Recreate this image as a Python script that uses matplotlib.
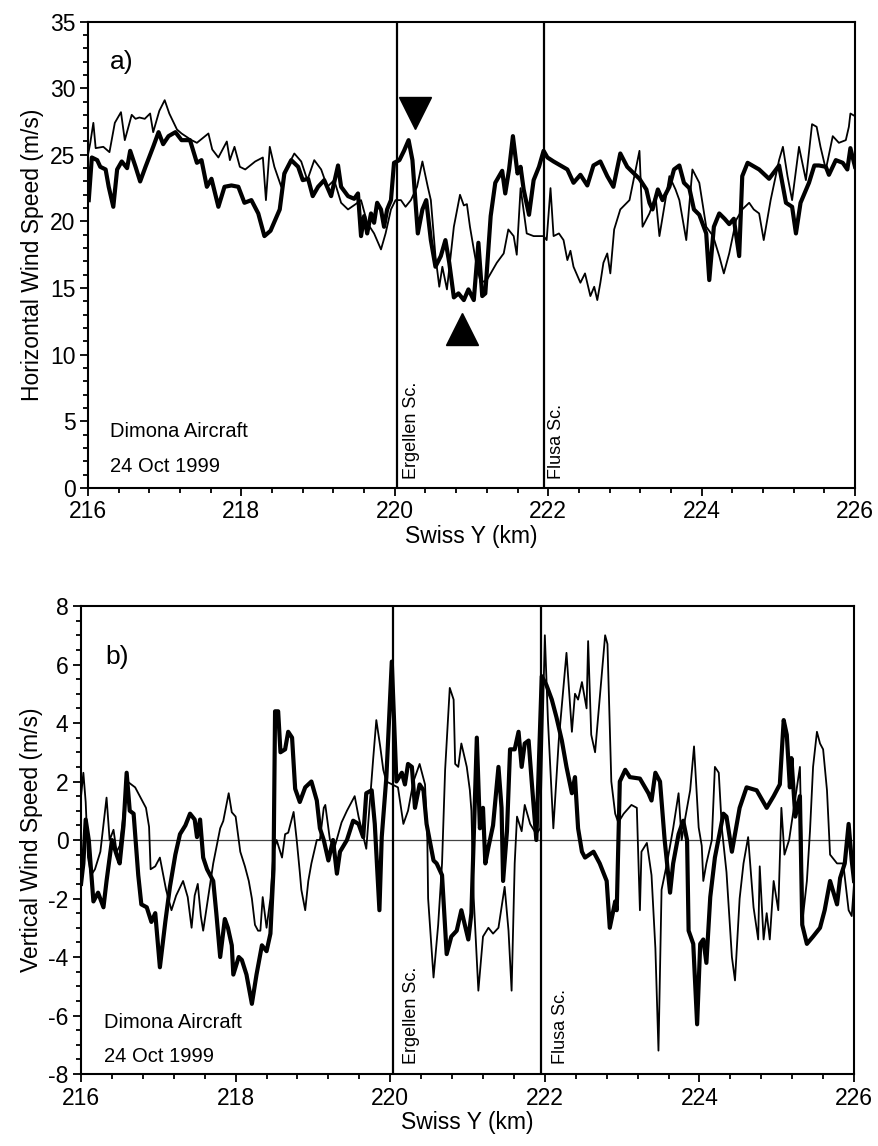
import numpy as np
import matplotlib.pyplot as plt
from matplotlib.ticker import MultipleLocator

plt.rcParams['font.family'] = ['Liberation Sans', 'DejaVu Sans']
plt.rcParams['axes.unicode_minus'] = False

# Panel a: horizontal wind speed (m/s) vs Swiss Y (km)
a_thin_x = [216.00, 216.03, 216.07, 216.10, 216.20, 216.28, 216.35, 216.43, 216.48, 216.57,
            216.62, 216.67, 216.74, 216.81, 216.85, 216.93, 217.00, 217.06, 217.16, 217.22,
            217.35, 217.42, 217.57, 217.62, 217.70, 217.81, 217.85, 217.91, 217.98, 218.05,
            218.18, 218.28, 218.32, 218.37, 218.43, 218.52, 218.60, 218.69, 218.78, 218.86,
            218.95, 219.04, 219.12, 219.21, 219.30, 219.39, 219.49, 219.56, 219.64, 219.73,
            219.82, 219.88, 219.95, 220.01, 220.08, 220.14, 220.21, 220.29, 220.36, 220.43,
            220.47, 220.53, 220.58, 220.62, 220.68, 220.77, 220.85, 220.90, 220.94, 220.98,
            221.03, 221.07, 221.12, 221.20, 221.33, 221.42, 221.48, 221.55, 221.59, 221.64,
            221.72, 221.81, 221.94, 221.98, 222.03, 222.07, 222.14, 222.20, 222.25, 222.29,
            222.33, 222.42, 222.48, 222.55, 222.60, 222.64, 222.68, 222.72, 222.77, 222.81,
            222.86, 222.94, 223.06, 223.19, 223.23, 223.32, 223.40, 223.45, 223.58, 223.66,
            223.71, 223.80, 223.88, 223.97, 224.06, 224.15, 224.23, 224.29, 224.36, 224.45,
            224.53, 224.62, 224.68, 224.75, 224.81, 224.90, 225.01, 225.06, 225.12, 225.18,
            225.27, 225.36, 225.44, 225.50, 225.55, 225.62, 225.71, 225.79, 225.88, 225.92,
            225.94, 226.00]
a_thin_y = [25.0, 25.9, 27.4, 25.5, 25.6, 25.2, 27.4, 28.2, 26.1, 28.0,
            27.7, 27.8, 27.7, 28.1, 26.7, 28.3, 29.1, 28.1, 26.9, 26.6,
            26.1, 25.9, 26.6, 25.4, 24.8, 26.0, 24.6, 25.6, 24.1, 23.9,
            24.5, 24.8, 21.6, 25.6, 24.1, 22.6, 24.1, 25.1, 24.5, 23.1,
            24.6, 23.9, 22.6, 23.1, 21.4, 20.9, 21.3, 21.6, 19.9, 19.1,
            17.9, 19.1, 20.9, 21.6, 21.6, 21.1, 21.6, 22.6, 24.5, 22.6,
            21.6, 17.4, 15.1, 16.6, 14.9, 19.6, 22.0, 21.2, 21.3, 19.6,
            17.9, 16.6, 15.4, 15.6, 16.9, 17.6, 19.4, 18.9, 17.5, 22.5,
            19.1, 18.9, 18.9, 18.6, 22.5, 18.9, 19.1, 18.6, 17.1, 17.8,
            16.6, 15.4, 16.1, 14.4, 15.1, 14.1, 15.4, 16.9, 17.6, 16.1,
            19.4, 20.9, 21.6, 25.3, 19.6, 20.6, 21.9, 18.9, 23.4, 22.4,
            21.6, 18.6, 23.9, 22.9, 19.6, 18.9, 17.4, 16.1, 17.6, 20.1,
            20.9, 21.4, 20.9, 20.6, 18.6, 21.6, 24.6, 25.6, 23.4, 21.6,
            25.6, 23.1, 27.3, 27.1, 25.6, 23.9, 26.4, 25.9, 26.1, 27.1,
            28.1, 27.9]

a_thick_x = [216.01, 216.05, 216.12, 216.16, 216.23, 216.27, 216.33, 216.38, 216.44, 216.51,
             216.55, 216.62, 216.68, 216.75, 216.79, 216.85, 216.92, 216.98, 217.05, 217.14,
             217.22, 217.33, 217.42, 217.48, 217.55, 217.61, 217.70, 217.78, 217.87, 217.96,
             218.04, 218.13, 218.22, 218.30, 218.38, 218.50, 218.56, 218.65, 218.74, 218.80,
             218.87, 218.93, 219.00, 219.08, 219.17, 219.26, 219.30, 219.39, 219.47, 219.52,
             219.56, 219.60, 219.64, 219.69, 219.73, 219.77, 219.82, 219.86, 219.90, 219.95,
             219.99, 220.06, 220.12, 220.18, 220.23, 220.30, 220.36, 220.41, 220.47, 220.53,
             220.60, 220.66, 220.71, 220.77, 220.83, 220.90, 220.96, 221.03, 221.09, 221.14,
             221.18, 221.25, 221.31, 221.40, 221.44, 221.49, 221.54, 221.60, 221.64, 221.68,
             221.75, 221.81, 221.88, 221.94, 221.99, 222.07, 222.16, 222.25, 222.33, 222.42,
             222.51, 222.59, 222.68, 222.77, 222.85, 222.94, 223.03, 223.10, 223.19, 223.28,
             223.32, 223.36, 223.43, 223.49, 223.58, 223.64, 223.71, 223.77, 223.84, 223.90,
             223.97, 224.06, 224.10, 224.16, 224.23, 224.30, 224.36, 224.42, 224.49, 224.53,
             224.60, 224.75, 224.88, 225.01, 225.10, 225.18, 225.23, 225.29, 225.40, 225.47,
             225.53, 225.62, 225.66, 225.75, 225.84, 225.90, 225.94, 226.00]
a_thick_y = [21.6, 24.8, 24.6, 24.1, 23.9, 22.6, 21.1, 23.9, 24.5, 24.0,
             25.3, 24.1, 23.0, 24.1, 24.7, 25.6, 26.7, 25.8, 26.4, 26.7,
             26.1, 26.1, 24.4, 24.6, 22.6, 23.2, 21.1, 22.6, 22.7, 22.6,
             21.4, 21.6, 20.6, 18.9, 19.3, 20.9, 23.6, 24.6, 24.1, 23.1,
             23.2, 21.9, 22.6, 23.1, 21.9, 24.2, 22.6, 21.9, 21.7, 22.1,
             18.9, 20.4, 19.1, 20.6, 19.9, 21.4, 20.9, 19.6, 20.9, 21.6,
             24.4, 24.6, 25.3, 26.1, 24.6, 19.1, 20.9, 21.6, 18.6, 16.6,
             17.4, 18.6, 16.9, 14.3, 14.6, 14.1, 14.9, 14.1, 18.4, 14.4,
             14.6, 20.4, 22.9, 23.8, 22.1, 23.9, 26.4, 23.6, 24.1, 22.4,
             20.5, 23.1, 24.1, 25.3, 24.8, 24.5, 24.2, 23.9, 22.9, 23.5,
             22.7, 24.2, 24.5, 23.4, 22.6, 25.1, 24.1, 23.7, 23.2, 22.4,
             21.4, 20.9, 22.4, 21.6, 22.6, 23.9, 24.2, 22.9, 22.5, 20.9,
             20.5, 19.1, 15.6, 19.6, 20.6, 20.2, 19.8, 20.2, 17.4, 23.4,
             24.4, 23.9, 23.2, 24.2, 21.4, 21.1, 19.1, 21.4, 22.9, 24.2,
             24.2, 24.1, 23.5, 24.6, 24.4, 23.9, 25.5, 24.1]

# Panel b: vertical wind speed (m/s)
b_thin_x = [216.00, 216.03, 216.06, 216.09, 216.13, 216.18, 216.25, 216.33, 216.37, 216.42,
            216.46, 216.50, 216.60, 216.70, 216.77, 216.84, 216.88, 216.90, 216.96, 217.02,
            217.10, 217.17, 217.23, 217.32, 217.38, 217.43, 217.47, 217.51, 217.55, 217.58,
            217.71, 217.80, 217.84, 217.91, 217.95, 218.00, 218.06, 218.12, 218.17, 218.21,
            218.25, 218.29, 218.32, 218.35, 218.40, 218.45, 218.49, 218.53, 218.60, 218.64,
            218.68, 218.75, 218.79, 218.83, 218.85, 218.90, 218.94, 218.98, 219.05, 219.09,
            219.14, 219.16, 219.22, 219.28, 219.37, 219.44, 219.54, 219.59, 219.69, 219.78,
            219.82, 219.87, 219.91, 219.95, 220.10, 220.17, 220.23, 220.30, 220.38, 220.45,
            220.48, 220.49, 220.56, 220.62, 220.67, 220.71, 220.77, 220.82, 220.84, 220.88,
            220.92, 220.99, 221.03, 221.05, 221.08, 221.14, 221.20, 221.27, 221.33, 221.40,
            221.48, 221.53, 221.57, 221.61, 221.64, 221.70, 221.74, 221.81, 221.89, 221.94,
            222.00, 222.04, 222.11, 222.18, 222.28, 222.35, 222.39, 222.43, 222.48, 222.54,
            222.56, 222.60, 222.65, 222.78, 222.81, 222.86, 222.91, 222.95, 223.02, 223.12,
            223.19, 223.23, 223.25, 223.32, 223.38, 223.43, 223.47, 223.51, 223.58, 223.66,
            223.73, 223.77, 223.81, 223.88, 223.93, 223.99, 224.03, 224.05, 224.09, 224.16,
            224.20, 224.25, 224.29, 224.35, 224.42, 224.46, 224.52, 224.57, 224.63, 224.70,
            224.76, 224.78, 224.83, 224.87, 224.91, 224.96, 225.02, 225.06, 225.10, 225.16,
            225.30, 225.34, 225.39, 225.43, 225.47, 225.52, 225.56, 225.60, 225.65, 225.69,
            225.78, 225.86, 225.93, 225.97, 226.00]
b_thin_y = [1.5, 2.3, 1.3, -0.6, -1.2, -1.0, -0.4, 1.45, 0.0, 0.35,
            -0.4, -0.2, 2.0, 1.8, 1.45, 1.1, 0.45, -1.0, -0.9, -0.6,
            -1.7, -2.4, -1.9, -1.4, -1.95, -3.0, -1.9, -1.5, -2.6, -3.1,
            -0.8, 0.4, 0.65, 1.6, 0.95, 0.8, -0.4, -0.9, -1.4, -2.0,
            -2.9, -3.1, -3.1, -1.95, -3.0, -2.0, -0.4, 0.0, -0.6, 0.2,
            0.25, 0.96, 0.0, -1.1, -1.7, -2.4, -1.4, -0.8, 0.0, 0.0,
            1.1, 1.2, 0.0, -0.25, 0.6, 1.0, 1.5, 0.8, -0.3, 2.8,
            4.1, 3.2, 2.4, 2.0, 1.8, 0.55, 1.0, 2.0, 2.6, 1.9,
            0.0, -2.0, -4.7, -2.9, -0.8, 2.4, 5.2, 4.8, 2.6, 2.5,
            3.3, 2.5, 1.7, 1.0, -2.0, -5.15, -3.3, -3.0, -3.2, -3.0,
            -1.6, -3.1, -5.15, -0.8, 0.8, 0.3, 1.2, 0.55, 0.2, 0.4,
            7.0, 4.1, 0.4, 3.4, 6.4, 3.7, 5.0, 4.8, 5.4, 4.5,
            6.8, 3.6, 3.0, 7.0, 6.7, 2.0, 0.9, 0.6, 0.9, 1.2,
            1.1, -2.4, -0.4, -0.1, -1.2, -3.7, -7.2, -1.7, -0.8, 0.4,
            1.6, 0.0, 0.66, 1.7, 3.2, 0.43, -0.2, -1.4, -0.8, 0.0,
            2.5, 2.3, 0.4, -1.1, -4.0, -4.8, -2.0, -0.8, 0.1, -2.3,
            -3.4, -0.9, -3.4, -2.5, -3.4, -1.4, -2.4, 1.1, -0.5, 0.0,
            2.5, -2.6, -1.4, 0.3, 2.5, 3.7, 3.3, 3.1, 1.7, -0.5,
            -0.8, -0.8, -2.4, -2.6, -1.5]

b_thick_x = [216.00, 216.03, 216.06, 216.10, 216.16, 216.22, 216.29, 216.33, 216.40, 216.46,
             216.50, 216.55, 216.59, 216.63, 216.68, 216.74, 216.78, 216.85, 216.91, 216.96,
             217.02, 217.09, 217.15, 217.22, 217.28, 217.35, 217.41, 217.47, 217.50, 217.54,
             217.58, 217.63, 217.71, 217.75, 217.80, 217.86, 217.90, 217.95, 217.97, 218.04,
             218.08, 218.14, 218.21, 218.27, 218.34, 218.40, 218.45, 218.49, 218.51, 218.55,
             218.58, 218.64, 218.68, 218.73, 218.77, 218.83, 218.90, 218.98, 219.05, 219.09,
             219.14, 219.20, 219.26, 219.31, 219.35, 219.44, 219.52, 219.59, 219.65, 219.69,
             219.76, 219.80, 219.86, 219.89, 219.95, 220.02, 220.08, 220.15, 220.19, 220.23,
             220.28, 220.32, 220.38, 220.43, 220.47, 220.56, 220.60, 220.67, 220.73, 220.79,
             220.86, 220.92, 221.01, 221.05, 221.12, 221.16, 221.20, 221.23, 221.27, 221.33,
             221.40, 221.44, 221.46, 221.51, 221.55, 221.61, 221.66, 221.70, 221.74, 221.79,
             221.83, 221.89, 221.96, 222.02, 222.09, 222.15, 222.22, 222.28, 222.35, 222.39,
             222.43, 222.48, 222.52, 222.63, 222.71, 222.80, 222.84, 222.91, 222.93, 222.97,
             223.04, 223.10, 223.23, 223.34, 223.38, 223.43, 223.49, 223.55, 223.62, 223.66,
             223.73, 223.79, 223.84, 223.86, 223.92, 223.97, 224.01, 224.05, 224.09, 224.14,
             224.20, 224.31, 224.35, 224.42, 224.52, 224.61, 224.74, 224.87, 224.96, 225.04,
             225.09, 225.13, 225.17, 225.19, 225.24, 225.30, 225.33, 225.39, 225.47, 225.56,
             225.62, 225.69, 225.78, 225.82, 225.88, 225.93, 225.97, 226.00]
b_thick_y = [-1.5, -0.8, 0.7, 0.0, -2.1, -1.8, -2.3, -1.4, 0.0, -0.5,
             -0.8, 0.5, 2.3, 1.0, 0.9, -1.2, -2.2, -2.3, -2.8, -2.5,
             -4.35, -2.8, -1.6, -0.5, 0.2, 0.5, 0.9, 0.7, 0.1, 0.7,
             -0.6, -1.0, -1.4, -2.5, -4.0, -2.7, -3.0, -3.6, -4.6, -4.0,
             -4.1, -4.6, -5.6, -4.6, -3.6, -3.8, -3.2, -1.0, 4.4, 4.4,
             3.0, 3.1, 3.7, 3.5, 1.75, 1.3, 1.8, 2.0, 1.35, 0.4,
             0.0, -0.7, 0.0, -1.15, -0.4, 0.0, 0.66, 0.55, 0.1, 1.6,
             1.7, 0.55, -2.4, 0.1, 2.15, 6.1, 2.0, 2.3, 1.9, 2.6,
             2.5, 1.1, 1.9, 1.7, 0.55, -0.7, -0.8, -1.2, -3.9, -3.3,
             -3.1, -2.4, -3.4, -2.5, 3.5, 0.4, 1.1, -0.8, -0.25, 0.5,
             2.5, 1.1, -1.4, 0.3, 3.1, 3.1, 3.7, 2.5, 3.3, 3.4,
             2.0, 0.0, 5.6, 5.3, 4.8, 4.2, 3.4, 2.5, 1.6, 2.15,
             0.4, -0.4, -0.6, -0.4, -0.8, -1.4, -3.0, -2.1, -2.4, 2.0,
             2.4, 2.15, 2.1, 1.6, 1.35, 2.3, 2.0, 0.0, -1.8, -0.8,
             0.2, 0.66, 0.0, -3.1, -3.55, -6.3, -3.55, -3.4, -4.2, -1.95,
             -0.6, 0.9, 0.8, -0.4, 1.1, 1.8, 1.7, 1.1, 1.5, 1.9,
             4.1, 3.6, 1.8, 2.8, 0.8, 1.5, -2.9, -3.55, -3.3, -3.0,
             -2.4, -1.4, -2.2, -1.3, -0.8, 0.55, -0.7, -1.4]

# scan boundaries and arrow markers
scan_x = [220.03, 221.95]
scan_names = ['Ergellen Sc.', 'Flusa Sc.']
a_label_x = [220.22, 222.11]
b_label_x = [220.28, 222.20]
tri_down = (220.26, 28.15)
tri_up = (220.88, 11.9)

fig = plt.figure(figsize=(8.79, 11.46), dpi=100)
ax1 = fig.add_axes([0.1001, 0.5742, 0.8726, 0.4070])
ax2 = fig.add_axes([0.0922, 0.0628, 0.8794, 0.4084])

def style(ax):
    for s in ax.spines.values():
        s.set_linewidth(1.5)
    ax.tick_params(which='both', direction='out', width=1.3, labelsize=16.5,
                   top=False, right=False)
    ax.tick_params(which='major', length=6, pad=3)
    ax.tick_params(which='minor', length=3.5)
    ax.set_xlim(216, 226)
    ax.xaxis.set_major_locator(MultipleLocator(2))
    ax.xaxis.set_minor_locator(MultipleLocator(0.4))
    ax.set_xlabel('Swiss Y (km)', fontsize=16.5, labelpad=1)

# --- panel a ---
ax1.plot(a_thin_x, a_thin_y, color='black', lw=1.3)
ax1.plot(a_thick_x, a_thick_y, color='black', lw=3.0)
for xv, lx, name in zip(scan_x, a_label_x, scan_names):
    ax1.axvline(xv, color='black', lw=1.6)
    ax1.text(lx, 0.7, name, rotation=90, ha='center', va='bottom', fontsize=13)
ax1.plot(*tri_down, marker='v', color='black', ms=23)
ax1.plot(*tri_up, marker='^', color='black', ms=23)
ax1.set_ylim(0, 35)
ax1.yaxis.set_major_locator(MultipleLocator(5))
ax1.yaxis.set_minor_locator(MultipleLocator(1))
ax1.set_ylabel('Horizontal Wind Speed (m/s)', fontsize=16.5, labelpad=4)
ax1.text(0.029, 0.913, 'a)', transform=ax1.transAxes, fontsize=19, va='center')
ax1.text(0.029, 0.122, 'Dimona Aircraft', transform=ax1.transAxes, fontsize=14.5, va='center')
ax1.text(0.029, 0.047, '24 Oct 1999', transform=ax1.transAxes, fontsize=14.5, va='center')
style(ax1)

# --- panel b ---
ax2.axhline(0, color='#444444', lw=0.9)
ax2.plot(b_thin_x, b_thin_y, color='black', lw=1.3)
ax2.plot(b_thick_x, b_thick_y, color='black', lw=3.0)
for xv, lx, name in zip(scan_x, b_label_x, scan_names):
    ax2.axvline(xv, color='black', lw=1.6)
    ax2.text(lx, -7.65, name, rotation=90, ha='center', va='bottom', fontsize=13)
ax2.set_ylim(-8, 8)
ax2.yaxis.set_major_locator(MultipleLocator(2))
ax2.yaxis.set_minor_locator(MultipleLocator(0.5))
ax2.set_ylabel('Vertical Wind Speed (m/s)', fontsize=16.5, labelpad=4)
ax2.text(0.031, 0.891, 'b)', transform=ax2.transAxes, fontsize=19, va='center')
ax2.text(0.030, 0.111, 'Dimona Aircraft', transform=ax2.transAxes, fontsize=14.5, va='center')
ax2.text(0.030, 0.038, '24 Oct 1999', transform=ax2.transAxes, fontsize=14.5, va='center')
style(ax2)

fig.savefig('out.png', dpi=100)
